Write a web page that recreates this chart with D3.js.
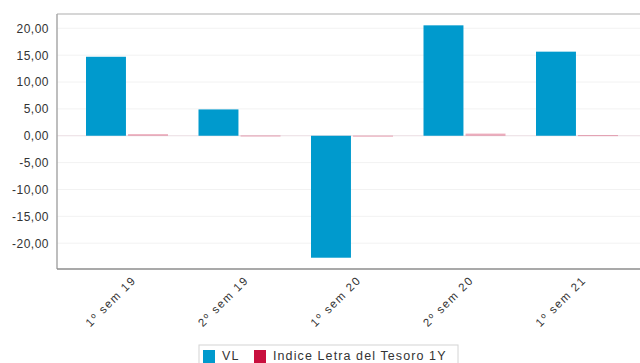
<!DOCTYPE html>
<html><head><meta charset="utf-8">
<script src="https://cdn.jsdelivr.net/npm/d3@7/dist/d3.min.js"></script>
<style>body{margin:0;background:#fff}svg{display:block}text{font-family:"Liberation Sans",Arial,sans-serif;fill:#333}</style>
</head><body><svg id="c" width="640" height="363"></svg>
<script>
const categories = ["1º sem 19","2º sem 19","1º sem 20","2º sem 20","1º sem 21"];
const seriesNames = ["VL","Indice Letra del Tesoro 1Y"];
const vlValues = [14.7, 4.9, -22.7, 20.55, 15.65];
const indexValues = [0.3, 0.05, 0.02, 0.4, 0.12];
const yTicks = [-20,-15,-10,-5,0,5,10,15,20];
const colors = ["#009acd","#c8103e"];

const svg = d3.select("#c");
const L = 57, R = 641, T = 14, B = 269;
const y = d3.scaleLinear().domain([-24.8, 22.66]).range([B, T]);
const x0 = d3.scaleBand().domain(categories).range([70.75, 633.25]);
const x1 = d3.scaleBand().domain(seriesNames).range([15.25, x0.bandwidth()-15.25]).paddingInner(0.05);

// grid
svg.append("g").selectAll("line").data(yTicks).join("line")
  .attr("x1", L).attr("x2", R).attr("y1", d=>y(d)).attr("y2", d=>y(d))
  .attr("stroke", d=>d===0?"#eadde2":"#f2f2f2").attr("stroke-width",1);

// bars
const data = categories.map((c,i)=>({c, vals:[vlValues[i], indexValues[i]]}));
const g = svg.append("g").selectAll("g").data(data).join("g")
  .attr("transform", d=>`translate(${x0(d.c)},0)`);
g.selectAll("rect").data(d=>d.vals.map((v,j)=>({v, s:seriesNames[j], j}))).join("rect")
  .attr("x", d=>x1(d.s)).attr("width", x1.bandwidth())
  .attr("y", d=>y(Math.max(0,d.v))).attr("height", d=>Math.max(Math.abs(y(d.v)-y(0)), d.j?1:0))
  .attr("fill", d=>colors[d.j]).attr("fill-opacity", d=>d.j?0.35:1);

// frame
svg.append("line").attr("x1",L).attr("x2",R).attr("y1",T).attr("y2",T).attr("stroke","#c8c8c8").attr("stroke-width",1.5);
svg.append("line").attr("x1",L).attr("x2",L).attr("y1",T).attr("y2",B).attr("stroke","#a8a8a8").attr("stroke-width",1.5);
svg.append("line").attr("x1",L).attr("x2",R).attr("y1",B).attr("y2",B).attr("stroke","#8c8c8c").attr("stroke-width",1.5);

// y axis labels
const yAxis = d3.axisLeft(y).tickValues(yTicks).tickSize(0).tickPadding(8)
  .tickFormat(d=>d3.format(".2f")(d).replace(".",",").replace("−","-"));
const ya = svg.append("g").attr("transform",`translate(${L},0)`).call(yAxis);
ya.select(".domain").remove();
ya.selectAll("text").attr("font-size",12).attr("letter-spacing","0.5px").attr("fill","#333")
  .style("font-family","'Liberation Sans',Arial,sans-serif");

// x labels
svg.append("g").selectAll("text").data(categories).join("text")
  .attr("transform", d=>`translate(${x0(d)+x0.bandwidth()/2+7},${B+9}) rotate(-45)`)
  .attr("text-anchor","end").attr("dy","0.35em")
  .attr("font-size",11.5).attr("letter-spacing","1.6px").attr("fill","#333")
  .text(d=>d);

// legend
const lg = svg.append("g");
lg.append("rect").attr("x",199).attr("y",345).attr("width",259).attr("height",22)
  .attr("fill","#fff").attr("stroke","#d4d4d4");
let lx = 203;
const items = [{n:seriesNames[0], w:51},{n:seriesNames[1], w:0}];
items.forEach((it,i)=>{
  lg.append("rect").attr("x",lx).attr("y",350).attr("width",12).attr("height",13).attr("fill",colors[i]);
  lg.append("text").attr("x",lx+19).attr("y",359.5).attr("font-size",12.5).attr("letter-spacing","1.1px").attr("fill","#333").text(it.n);
  lx += it.w;
});
</script></body></html>
